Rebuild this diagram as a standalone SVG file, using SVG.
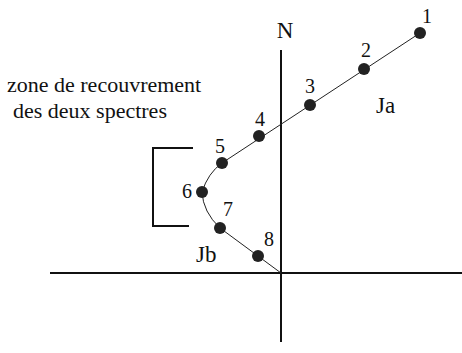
<svg xmlns="http://www.w3.org/2000/svg" width="462" height="353" viewBox="0 0 462 353">
<style>
.t{font-family:"Times New Roman",Times,"Liberation Serif","DejaVu Serif","Noto Serif",serif;fill:#111}
.lbl{font-size:20px}
.big{font-size:23px}
.note{font-size:22px}
.dot{fill:#222}
.axis{stroke:#111;stroke-width:2;fill:none}
.curve{stroke:#222;stroke-width:1;fill:none}
</style>
<rect width="462" height="353" fill="#fff"/>
<g id="connectors">
<line class="axis" x1="281" y1="50" x2="281" y2="342"/>
<line class="axis" x1="50" y1="273" x2="462" y2="273"/>
<path class="curve" d="M420,33 L222,163 Q208,173 202,192 Q203,212 220,228 L281,273"/>
<path class="axis" d="M193,148 H153 V226 H189"/>
</g>
<g id="axis-N"><text class="t big" x="285" y="38" text-anchor="middle">N</text></g>
<g id="p1"><circle class="dot" cx="420" cy="33" r="6"/><text class="t lbl" x="427" y="23" text-anchor="middle">1</text></g>
<g id="p2"><circle class="dot" cx="364" cy="69" r="6"/><text class="t lbl" x="366" y="57" text-anchor="middle">2</text></g>
<g id="p3"><circle class="dot" cx="310" cy="105" r="6"/><text class="t lbl" x="310" y="93" text-anchor="middle">3</text></g>
<g id="p4"><circle class="dot" cx="259" cy="136" r="6"/><text class="t lbl" x="260" y="126" text-anchor="middle">4</text></g>
<g id="p5"><circle class="dot" cx="222" cy="163" r="6"/><text class="t lbl" x="220" y="153" text-anchor="middle">5</text></g>
<g id="p6"><circle class="dot" cx="202" cy="192" r="6"/><text class="t lbl" x="187" y="198" text-anchor="middle">6</text></g>
<g id="p7"><circle class="dot" cx="220" cy="228" r="6"/><text class="t lbl" x="228" y="216" text-anchor="middle">7</text></g>
<g id="p8"><circle class="dot" cx="258" cy="256" r="6"/><text class="t lbl" x="269" y="246" text-anchor="middle">8</text></g>
<g id="Ja"><text class="t big" x="376" y="113">Ja</text></g>
<g id="Jb"><text class="t big" x="196" y="262">Jb</text></g>
<g id="note">
<text class="t note" x="7" y="92">zone de recouvrement</text>
<text class="t note" x="13" y="118">des deux spectres</text>
</g>
</svg>
